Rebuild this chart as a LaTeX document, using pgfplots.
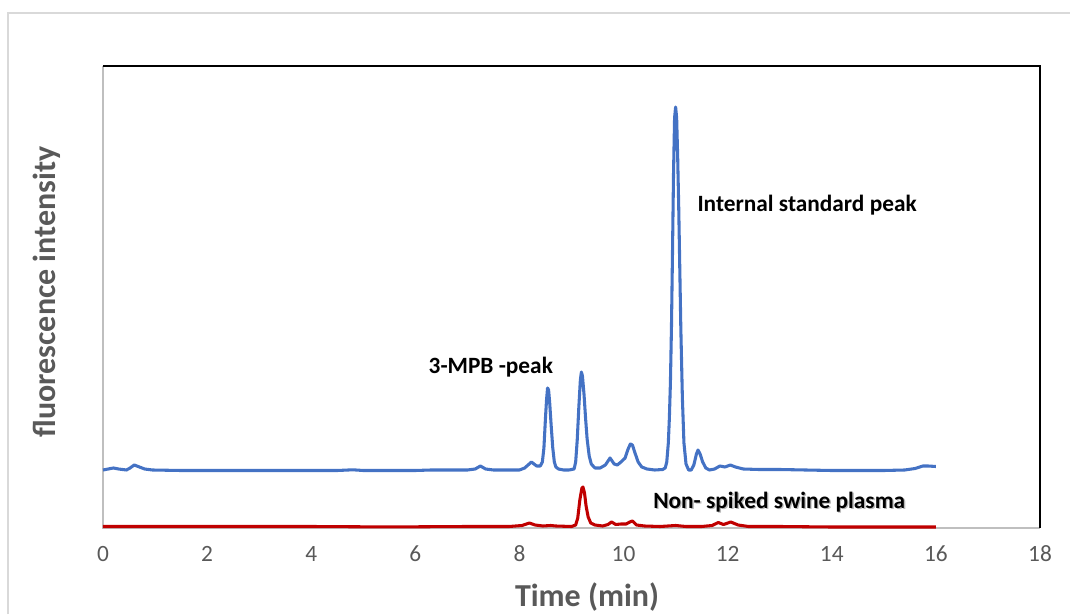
\documentclass[border=0pt]{standalone}
\usepackage{fontspec}
\setmainfont{Carlito}
\usepackage{pgfplots}
\pgfplotsset{compat=1.18}
\definecolor{myblue}{HTML}{4472C4}
\definecolor{myred}{HTML}{C00000}
\definecolor{labgray}{HTML}{595959}
\definecolor{axgray}{HTML}{BFBFBF}
\definecolor{framegray}{HTML}{D9D9D9}
\begin{document}
\begin{tikzpicture}
\path[use as bounding box] (-77.25pt,-64.5pt) rectangle (725.25pt,396pt);
\draw[framegray, line width=1.2pt] (-71.25pt,-64.5pt) -- (-71.25pt,386.25pt) -- (725.25pt,386.25pt);
\begin{axis}[at={(0,0)}, anchor=south west, scale only axis,
  width=702.75pt, height=346.5pt,
  xmin=0, xmax=18, ymin=0, ymax=462,
  xtick={0,2,...,18}, ytick=\empty,
  major tick length=0pt,
  axis line style={draw=none},
  ticklabel style={font=\fontsize{17.5}{20}\selectfont, text=labgray},
  xticklabel style={yshift=-10pt},
  /pgf/number format/assume math mode=true,
  clip=false]
\draw[axgray, line width=1.2pt] (rel axis cs:0,1) -- (rel axis cs:0,0) -- (rel axis cs:1,0);
\draw[black, line width=1.5pt] (rel axis cs:0,1) -- (rel axis cs:1,1) -- (rel axis cs:1,0);
\addplot[myblue, line width=2.3pt, line join=round] coordinates {
(0,58) (0.1,59) (0.2,60) (0.3,59) (0.45,58) (0.52,60) (0.6,63) (0.7,61) (0.8,59) (0.95,58)
(1.5,57.5) (2,57.5) (3,57.5) (4,57.5) (4.5,57.5) (4.8,58.2) (5.0,57.5) (6,57.5) (6.3,58)
(7.0,58) (7.15,59) (7.25,62) (7.35,59) (7.5,58) (8.0,58) (8.1,60) (8.23,66) (8.33,62) (8.40,62)
(8.44,66) (8.47,80) (8.50,110) (8.52,128) (8.54,140) (8.56,138) (8.58,126) (8.61,102) (8.64,80)
(8.67,66) (8.70,61) (8.75,59) (8.85,58) (8.95,58) (9.05,59) (9.08,66) (9.11,88) (9.14,120)
(9.17,148) (9.19,156) (9.21,152) (9.24,134) (9.27,110) (9.30,89) (9.34,72) (9.38,64) (9.45,60)
(9.55,60) (9.65,63) (9.74,70) (9.82,64) (9.88,63) (9.95,66) (10.03,70) (10.08,78) (10.13,84)
(10.17,83) (10.22,75) (10.28,66) (10.35,61) (10.45,59) (10.6,58) (10.75,58.5) (10.80,60)
(10.83,66) (10.86,85) (10.88,110) (10.90,145) (10.92,200) (10.94,275) (10.96,355) (10.98,410)
(11.00,421) (11.02,410) (11.04,370) (11.06,320) (11.08,260) (11.10,200) (11.13,130) (11.16,85)
(11.20,64) (11.25,58) (11.30,58) (11.35,63) (11.40,74) (11.43,78) (11.47,74) (11.52,66)
(11.58,60) (11.65,58) (11.75,59) (11.85,62) (11.95,61) (12.05,63) (12.15,61) (12.3,59)
(12.6,58.5) (13,58.5) (13.5,58) (14,57.5) (14.5,57.5) (15,57.5) (15.4,58) (15.6,59.5)
(15.75,62) (15.85,62) (16.0,61.5)
};
\addplot[myred, line width=2.3pt, line join=round] coordinates {
(0,1.5) (1,1.5) (2,1.5) (3,1.5) (4,1.5) (5,1.2) (6,1.2) (7,1.5) (7.8,1.5) (8.05,2.5) (8.19,5)
(8.3,3) (8.45,2) (8.6,2.5) (8.7,2) (9.0,1.5) (9.08,3) (9.12,10) (9.16,28) (9.20,40) (9.22,41)
(9.25,35) (9.28,22) (9.32,11) (9.37,5) (9.45,3) (9.6,2) (9.7,3.5) (9.77,6) (9.85,3.5) (9.95,4)
(10.05,4) (10.12,6) (10.17,7) (10.25,3) (10.4,2) (10.7,1.5) (11,2.5) (11.2,1.5) (11.5,1.5)
(11.7,2.5) (11.82,5.5) (11.92,3.5) (12.06,6) (12.2,3) (12.4,1.5) (13,1.5) (14,1) (15,1) (16,1)
};
\node[anchor=west, font=\fontsize{17.5}{20}\selectfont\bfseries] at (axis cs:11.33,323) {Internal standard peak};
\node[font=\fontsize{17.5}{20}\selectfont\bfseries] at (axis cs:7.45,161) {3-MPB -peak};
\node[anchor=west, font=\fontsize{17.5}{20}\selectfont\bfseries, text=gray!55] at ([xshift=1pt,yshift=-1pt]axis cs:10.48,26) {Non- spiked swine plasma};
\node[anchor=west, font=\fontsize{17.5}{20}\selectfont\bfseries] at (axis cs:10.48,26) {Non- spiked swine plasma};
\node[font=\fontsize{24}{28}\selectfont\bfseries, text=labgray] at (axis description cs:0.5166,-0.149) {Time (min)};
\node[font=\fontsize{24}{28}\selectfont\bfseries, text=labgray, rotate=90] at (axis description cs:-0.0598,0.511) {fluorescence intensity};
\end{axis}
\end{tikzpicture}
\end{document}
